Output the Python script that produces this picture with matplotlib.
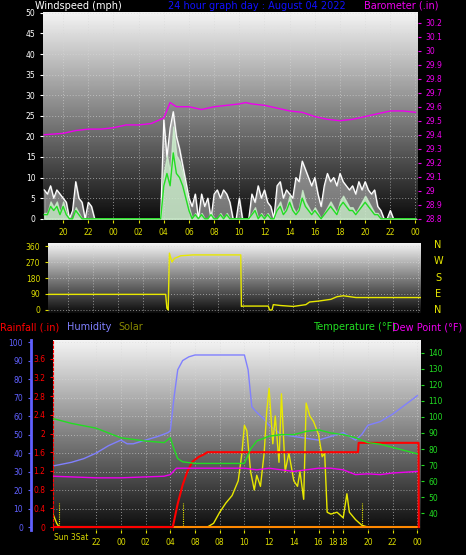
import numpy as np
import matplotlib
matplotlib.use("Agg")
import matplotlib.pyplot as plt

# ---------------- data ----------------
wind_gust = [7,6,8,5,7,6, 5,4,0,2, 9,5,4,0, 4,3,0,0] + [0]*20 + \
    [24,15,22,26, 20,17,13,9, 5,3,6,0, 6,3,5,0, 6,7,5,7, 6,4,0,0, 5,0,0,0,
     6,4,8,5, 7,4,3,0, 8,9,5,7, 6,5,10,9, 14,12,10,8, 10,6,3,8, 11,9,10,8,
     11,9,8,7, 8,6,9,7, 9,7,6,7, 3,2,0,0, 2,0,0,0, 0,0,0,0, 0]
wind_avg = [1,1,3,2,3,1, 3,1,0,0, 2,1,0,0, 0,0,0,0] + [0]*20 + \
    [8,11,8,16, 11,10,8,5, 2,0,1,0, 1,0,0,1, 0,0,1,0, 1,0,0,0, 0,0,0,0,
     1,2,0,1, 0,1,0,0, 2,3,1,2, 4,2,1,2, 5,3,2,1, 2,1,0,1, 2,3,2,1,
     3,4,3,2, 2,1,2,3, 4,3,2,1, 1,0,0,0, 0,0,0,0, 0,0,0,0, 0]
wind_t = [18.5 + 0.25 * i for i in range(len(wind_gust))]

baro_t = [18.5,20,21,22,23,24,25,26,27,27.5,28,28.5,29,30,31,32,33,34,34.5,35,36,37,38,39,40,41,42,43,44,45,46,47,48]
baro = [29.40,29.41,29.43,29.44,29.44,29.45,29.47,29.47,29.48,29.50,29.52,29.63,29.60,29.60,29.58,29.60,
        29.61,29.62,29.63,29.62,29.61,29.59,29.57,29.56,29.53,29.51,29.50,29.51,29.53,29.55,29.57,29.57,29.56]

dir_t = [18.4,27.8,27.9,28.0,28.1,28.3,28.5,29,30,33.8,33.85,34,36,36.1,36.3,36.4,37,38,39,39.3,40,41,41.5,42,43,48.2]
wdir = [88,88,10,0,320,270,290,305,310,310,20,22,22,0,0,30,25,20,30,45,50,60,75,80,70,70]

hum_t = [18.5,20,21,22,23,24,24.5,25,26,27,27.8,28,28.3,28.6,29,29.5,30,34,34.3,34.6,35,35.5,36,37,38,39,40,41,42,43,43.5,44,45,46,47,48]
humidity = [33,35,37,40,44,47,45,45,47,49,51,52,70,85,90,92,93,93,85,65,62,59,55,50,49,48,47,49,51,47,50,55,57,61,66,71]

temp_t = [18.5,20,22,24,26,27.5,28,28.3,28.6,29,30,34,34.5,35,36,37,38,39,40,41,42,43,44,45,46,47,48]
temperature = [99,96,93,87,85,84,87,80,74,72,71,71,80,85,88,89,89,91,92,90,89,87,84,83,81,79,77]

dew_t = [18.5,22,24,27.5,28,28.5,30,34,35,36,37,38,40,41,42,43,44,45,46,48]
dewpoint = [63,62,62,63,64,68,68,68,67,68,67,66,68,68,67,64,64.5,64,65,66]

rain_t = [18.5,28.2,28.6,29.0,29.4,29.8,30.3,30.7,31,43.2,43.25,48.1,48.12]
rain = [0,0,0.5,0.9,1.2,1.4,1.5,1.55,1.6,1.6,1.8,1.8,0]

solar_t = [18.5,18.8,19,31,31.5,32,32.5,33,33.5,33.8,34,34.2,34.5,34.8,35,35.3,35.6,35.8,36,36.3,36.5,36.8,
           37,37.3,37.6,38,38.3,38.5,38.7,38.8,39,39.3,39.6,40,40.3,40.5,40.7,41,41.5,42,42.3,42.5,43,43.5,44,48]
solar = [7,2,0,0,2,8,13,17,25,40,55,52,30,20,28,22,40,62,75,45,60,35,72,30,40,25,22,30,20,15,67,60,57,50,38,40,
         8,7,8,5,18,8,4,1,0,0]

top_ticks = [20,22,24,26,28,30,32,34,36,38,40,42,44,46,48]
top_labels = ["20","22","00","02","04","06","08","10","12","14","16","18","20","22","00"]
bot_ticks = [22,24,26,28,30,32,34,36,38,40,41.2,42,44,46,48]
bot_labels = ["22","00","02","04","08","08","10","12","14","16","18","18","20","22","00"]

# ---------------- drawing ----------------
W, H = 466, 555
fig = plt.figure(figsize=(W/100, H/100), dpi=100, facecolor="black")

def rect(x0, y0, x1, y1):
    return [x0/W, 1 - y1/H, (x1-x0)/W, (y1-y0)/H]

grad = np.linspace(0, 1, 256).reshape(-1, 1)

def background(ax):
    ax.set_facecolor("black")
    ax.imshow(grad, aspect="auto", cmap="gray", vmin=-0.05, vmax=1.05,
              extent=[0, 1, 0, 1], transform=ax.transAxes, zorder=0, origin="lower")
    for s in ax.spines.values():
        s.set_visible(False)
    ax.grid(True, color="#d8d8d8", linestyle=(0, (1, 2)), linewidth=0.7, alpha=0.6)

fs = 5.5

# top panel
ax1 = fig.add_axes(rect(43, 12, 418, 220))
background(ax1)
ax1.set_xlim(18.4, 48.2)
ax1.set_ylim(-0.3, 50.2)
ax1.fill_between(wind_t, wind_gust, color="#c8c8c8", alpha=0.55, zorder=2)
ax1.plot(wind_t, wind_gust, color="white", lw=0.9, zorder=3)
ax1.fill_between(wind_t, [v*1.4 for v in wind_avg], color="#d0f5d0", alpha=0.75, zorder=3)
ax1.plot(wind_t, wind_avg, color="#22dd22", lw=1.0, zorder=4)
ax1.set_yticks(range(0, 51, 5))
ax1.set_xticks(top_ticks)
ax1.set_xticklabels(top_labels)
ax1.tick_params(axis="y", colors="white", labelsize=fs, length=2, labelcolor="white")
ax1.tick_params(axis="x", colors="#dddd00", labelsize=fs, length=2, labelcolor="#dddd00")
ax1b = ax1.twinx()
ax1b.set_ylim(28.8 - 0.3/34, 28.8 + 50.2/34)
ax1b.plot(baro_t, baro, color="#ee00ee", lw=1.0, zorder=5)
ax1b.set_yticks([round(28.8 + 0.1*i, 1) for i in range(15)])
ax1b.set_yticklabels(["28.8","28.9","29","29.1","29.2","29.3","29.4","29.5","29.6","29.7","29.8","29.9","30","30.1","30.2"])
ax1b.tick_params(axis="y", colors="#ee00ee", labelsize=fs, length=2, labelcolor="#ee00ee")
for s in ax1b.spines.values():
    s.set_visible(False)

fig.text(35/W, 1 - 6/H, "Windspeed (mph)", color="white", fontsize=7, va="center")
fig.text(257/W, 1 - 6/H, "24 hour graph day : August 04 2022", color="#1010ff", fontsize=7, va="center", ha="center")
fig.text(438/W, 1 - 6/H, "Barometer (.in)", color="#ee00ee", fontsize=7, va="center", ha="right")

# middle panel
ax2 = fig.add_axes(rect(48, 243, 421, 313))
background(ax2)
ax2.set_xlim(18.4, 48.2)
ax2.set_ylim(-17, 377)
ax2.plot(dir_t, wdir, color="#e8e800", lw=1.0, zorder=4)
ax2.set_yticks([0, 90, 180, 270, 360])
ax2.set_xticks(top_ticks)
ax2.set_xticklabels([])
ax2.tick_params(axis="y", colors="#dddd00", labelsize=fs, length=2, labelcolor="#dddd00")
ax2.tick_params(axis="x", length=0)
for lab, yy in zip(["N", "W", "S", "E", "N"], [245, 261, 278, 294, 310]):
    fig.text(438/W, 1 - yy/H, lab, color="#e8e800", fontsize=7, ha="center", va="center")

fig.text(0/W, 1 - 327/H, "Rainfall (.in)", color="red", fontsize=7, va="center")
fig.text(67/W, 1 - 327/H, "Humidity", color="#8080ff", fontsize=7, va="center")
fig.text(118/W, 1 - 327/H, "Solar", color="#888800", fontsize=7, va="center")
fig.text(313/W, 1 - 327/H, "Temperature (°F)", color="#22dd22", fontsize=7, va="center")
fig.text(392/W, 1 - 327/H, "Dew Point (°F)", color="#ee00ee", fontsize=7, va="center")

# bottom panel
ax3 = fig.add_axes(rect(53, 340, 421, 530))
background(ax3)
ax3.set_xlim(18.5, 48.3)
ax3.set_ylim(-1.6, 101.1)
ax3.plot(hum_t, humidity, color="#8080ff", lw=1.0, zorder=4)
ax3.plot(solar_t, solar, color="#e8e800", lw=1.0, zorder=5)
ax3.set_yticks(range(0, 101, 10))
ax3.spines["left"].set_visible(True)
ax3.spines["left"].set_position(("outward", 16))
ax3.spines["left"].set_color("#6060ff")
ax3.spines["left"].set_linewidth(2)
ax3.tick_params(axis="y", colors="#6060ff", labelsize=fs, length=2, labelcolor="#6060ff")
ax3.set_xticks(bot_ticks)
ax3.set_xticklabels(bot_labels)
ax3.tick_params(axis="x", colors="#dddd00", labelsize=fs, length=2, labelcolor="#dddd00")
fig.text(54/W, 1 - 538/H, "Sun 3Sat", color="#dddd00", fontsize=fs, va="center")
for xv in [19.0, 29.0, 43.5]:
    ax3.axvline(xv, ymin=0.02, ymax=0.14, color="#e8e800", lw=0.8, linestyle=(0, (1, 1)), zorder=3)

ax3r = ax3.twinx()
ax3r.set_ylim(-0.064, 4.0)
ax3r.yaxis.tick_left()
ax3r.plot([18.5, 48.1], [0, 0], color="#ff8800", lw=1.5, zorder=3)
ax3r.plot(rain_t, rain, color="red", lw=1.5, zorder=6)
ax3r.set_yticks([0, 0.4, 0.8, 1.2, 1.6, 2.0, 2.4, 2.8, 3.2, 3.6])
ax3r.set_yticklabels(["0", "0.4", "0.8", "1.2", "1.6", "2", "2.4", "2.8", "3.2", "3.6"])
ax3r.tick_params(axis="y", colors="red", labelsize=fs, length=2, labelcolor="red")
for s in ax3r.spines.values():
    s.set_visible(False)
ax3r.spines["left"].set_visible(True)
ax3r.spines["left"].set_color("red")
ax3r.spines["left"].set_linestyle((0, (2, 2)))

ax3t = ax3.twinx()
ax3t.set_ylim(29.4, 148.1)
ax3t.plot(temp_t, temperature, color="#22dd22", lw=1.0, zorder=4)
ax3t.plot(dew_t, dewpoint, color="#ee00ee", lw=1.0, zorder=4)
ax3t.set_yticks(range(40, 141, 10))
ax3t.tick_params(axis="y", colors="#22dd22", labelsize=fs, length=2, labelcolor="#22dd22")
for s in ax3t.spines.values():
    s.set_visible(False)

fig.savefig("out.png", dpi=100, facecolor="black")
